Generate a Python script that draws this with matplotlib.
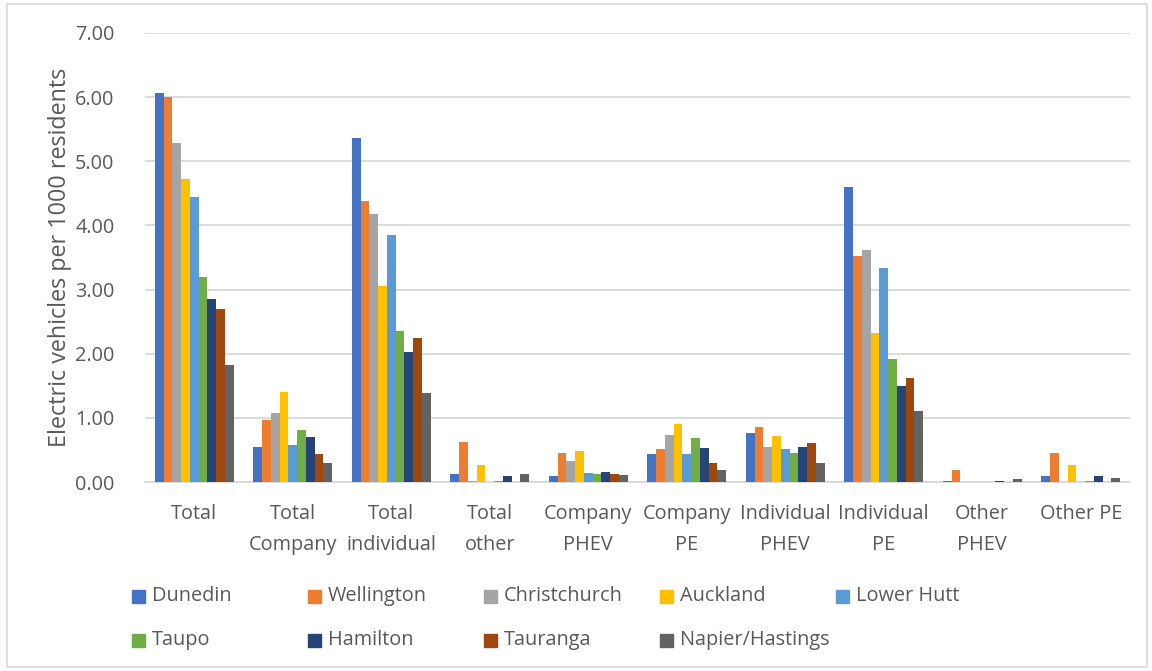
import matplotlib
matplotlib.use("Agg")
import matplotlib.pyplot as plt
from matplotlib.patches import Rectangle
import numpy as np

plt.rcParams['font.family'] = ['Open Sans', 'DejaVu Sans']

categories = ["Total", "Total\nCompany", "Total\nindividual", "Total\nother",
              "Company\nPHEV", "Company\nPE", "Individual\nPHEV", "Individual\nPE",
              "Other\nPHEV", "Other PE"]

cities = ["Dunedin", "Wellington", "Christchurch", "Auckland", "Lower Hutt",
          "Taupo", "Hamilton", "Tauranga", "Napier/Hastings"]

colors = ["#4472C4", "#ED7D31", "#A5A5A5", "#FFC000", "#5B9BD5",
          "#70AD47", "#264478", "#9E480E", "#636363"]

# EVs per 1000 residents, one list per city, in category order
dunedin      = [6.06, 0.55, 5.37, 0.13, 0.10, 0.44, 0.76, 4.60, 0.01, 0.10]
wellington   = [6.01, 0.97, 4.38, 0.63, 0.45, 0.51, 0.86, 3.52, 0.18, 0.45]
christchurch = [5.29, 1.07, 4.18, 0.01, 0.33, 0.73, 0.55, 3.62, 0.00, 0.00]
auckland     = [4.73, 1.40, 3.05, 0.26, 0.49, 0.90, 0.71, 2.33, 0.00, 0.26]
lower_hutt   = [4.45, 0.58, 3.85, 0.00, 0.14, 0.43, 0.51, 3.34, 0.00, 0.00]
taupo        = [3.20, 0.81, 2.36, 0.01, 0.12, 0.68, 0.45, 1.91, 0.00, 0.01]
hamilton     = [2.85, 0.70, 2.03, 0.10, 0.16, 0.53, 0.54, 1.49, 0.01, 0.09]
tauranga     = [2.69, 0.43, 2.24, 0.00, 0.13, 0.29, 0.61, 1.62, 0.00, 0.00]
napier       = [1.82, 0.29, 1.39, 0.12, 0.11, 0.18, 0.29, 1.10, 0.04, 0.07]

series = [dunedin, wellington, christchurch, auckland, lower_hutt,
          taupo, hamilton, tauranga, napier]

text_col = "#595959"
grid_col = "#D9D9D9"
fs = 14.3

fig = plt.figure(figsize=(11.52, 6.71), dpi=100)
ax = fig.add_axes([145 / 1152, 1 - 482 / 671, 985 / 1152, 449 / 671])

x = np.arange(len(categories))
w = 0.089
for i, (vals, c) in enumerate(zip(series, colors)):
    ax.bar(x + (i - 4) * w, vals, width=w, color=c, zorder=3)

ax.set_xlim(-0.5, len(categories) - 0.5)
ax.set_ylim(0, 7)
ax.set_yticks(np.arange(0, 7.01, 1))
ax.set_yticklabels([f"{v:.2f}" for v in np.arange(0, 7.01, 1)])
ax.set_xticks(x)
ax.set_xticklabels(categories, va="top", linespacing=1.75)
ax.grid(axis="y", color=grid_col, linewidth=1.3, zorder=0)
for s in ["top", "right", "left"]:
    ax.spines[s].set_visible(False)
ax.spines["bottom"].set_color(grid_col)
ax.spines["bottom"].set_linewidth(1.3)
ax.tick_params(axis="both", length=0, labelsize=fs, colors=text_col)
ax.tick_params(axis="y", pad=22)
ax.tick_params(axis="x", pad=16)
ax.set_ylabel("Electric vehicles per 1000 residents", fontsize=16.8,
              color=text_col, labelpad=2)

# legend in two rows of five evenly spaced entries
for i, (name, c) in enumerate(zip(cities, colors)):
    row, col = divmod(i, 5)
    lx = 132 + col * 176
    ly = 596 + row * 44
    fig.patches.append(Rectangle((lx / 1152, 1 - (ly + 6.5) / 671), 13 / 1152, 13 / 671,
                                 transform=fig.transFigure, color=c))
    fig.text((lx + 20) / 1152, 1 - ly / 671, name, fontsize=fs,
             color=text_col, va="center", ha="left")

# chart area border
fig.patches.append(Rectangle((7 / 1152, 4 / 671), 1140 / 1152, 663 / 671,
                             transform=fig.transFigure, fill=False,
                             edgecolor=grid_col, linewidth=1.2))

fig.savefig("out.png", dpi=100, facecolor="white")
